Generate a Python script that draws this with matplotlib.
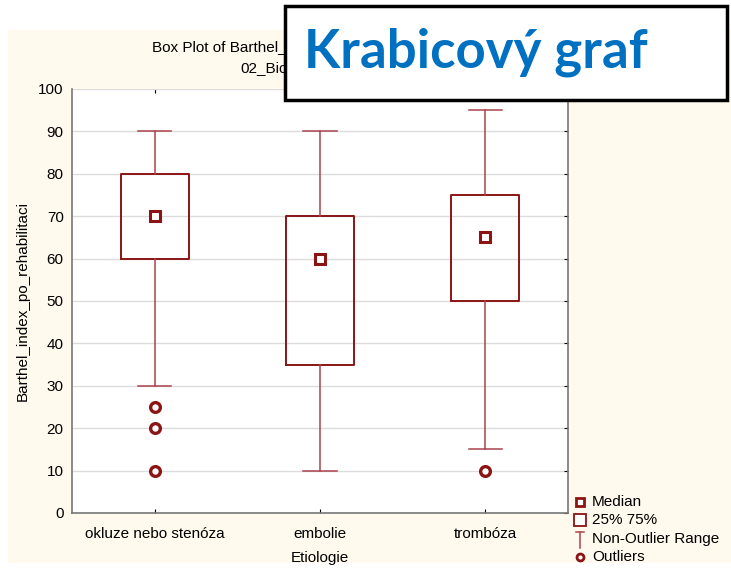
import matplotlib.pyplot as plt
from matplotlib.patches import Rectangle
from matplotlib.lines import Line2D

# -----------------------------------------------------------------------------
# data
categories = ["okluze nebo stenóza", "embolie", "trombóza"]
medians = [70, 60, 65]
q1 = [60, 35, 50]
q3 = [80, 70, 75]
whis_lo = [30, 10, 15]
whis_hi = [90, 90, 95]
outliers = [[25, 20, 10], [], [10]]
y_ticks = [0, 10, 20, 30, 40, 50, 60, 70, 80, 90, 100]

RED = '#8b1414'
CREAM = '#fff9ee'
W, H = 731, 572

plt.rcParams['font.family'] = ['Liberation Sans', 'DejaVu Sans']

fig = plt.figure(figsize=(W / 100, H / 100), dpi=100)
fig.patch.set_facecolor('white')

def px(x, y):
    return x / W, 1 - y / H

# cream slide background
bx, by = px(8, 563)
fig.patches.append(Rectangle((bx, by), (731 - 8) / W, (563 - 30) / H,
                             transform=fig.transFigure, facecolor=CREAM,
                             edgecolor='none', zorder=-5))

l, b = px(72, 513)
ax = fig.add_axes([l, b, (568 - 72) / W, (513 - 89) / H])
ax.set_zorder(2)
ax.set_facecolor('white')

positions = [1, 2, 3]
stats = []
for i in range(3):
    stats.append(dict(med=medians[i], q1=q1[i], q3=q3[i],
                      whislo=whis_lo[i], whishi=whis_hi[i],
                      fliers=outliers[i]))

ax.bxp(stats, positions=positions, widths=0.41, capwidths=0.2,
       showfliers=True,
       boxprops=dict(color=RED, linewidth=1.4),
       whiskerprops=dict(color='#a8444c', linewidth=1.1),
       capprops=dict(color='#a8444c', linewidth=1.1),
       medianprops=dict(linestyle='none'),
       flierprops=dict(marker='o', markersize=7, markerfacecolor='white',
                       markeredgecolor=RED, markeredgewidth=2.4))

ax.plot(positions, medians, linestyle='none', marker='s', markersize=7.5,
        markerfacecolor='white', markeredgecolor=RED, markeredgewidth=2.2,
        zorder=5)

ax.set_xlim(0.5, 3.5)
ax.set_ylim(0, 100)
ax.set_yticks(y_ticks)
ax.set_xticks(positions)
ax.set_xticklabels(categories, fontsize=11)
ax.tick_params(axis='y', labelsize=11, pad=6, right=True, left=False,
               direction='in', length=3)
ax.tick_params(axis='x', direction='in', length=3, top=True, pad=10)
ax.grid(axis='y', color='#dcdcdc', linewidth=1)
ax.set_axisbelow(True)
for s in ax.spines.values():
    s.set_color('#777777')
    s.set_linewidth(1.2)
ax.spines['top'].set_visible(False)

ax.set_xlabel("Etiologie", fontsize=11, labelpad=7)
ax.set_ylabel("Barthel_index_po_rehabilitaci", fontsize=11, labelpad=6)

# title, cut off by the overlay box
clip = Rectangle((0, 0), 285 / W, 1, transform=fig.transFigure)
t1 = fig.text(152 / W, 1 - 47 / H, "Box Plot of Barthel_i",
              fontsize=11, ha='left', va='center')
t2 = fig.text(240 / W, 1 - 68 / H, "02_Bios",
              fontsize=11, ha='left', va='center')
for t in (t1, t2):
    t.set_clip_path(clip)
    t.set_clip_on(True)

# legend
leg_x, txt_x = 580 / W, 592 / W
rows = [502, 520, 539, 557]
fig.add_artist(Line2D([leg_x], [1 - rows[0] / H], marker='s', markersize=5.5,
                      markerfacecolor='white', markeredgecolor=RED,
                      markeredgewidth=2, linestyle='none'))
fig.add_artist(Line2D([leg_x], [1 - rows[1] / H], marker='s', markersize=9,
                      markerfacecolor='white', markeredgecolor=RED,
                      markeredgewidth=1.3, linestyle='none'))
fig.add_artist(Line2D([leg_x, leg_x], [1 - 532 / H, 1 - 548 / H],
                      color='#a8444c', linewidth=1.1))
fig.add_artist(Line2D([leg_x - 4 / W, leg_x + 4 / W], [1 - 532 / H, 1 - 532 / H],
                      color='#a8444c', linewidth=1.1))
fig.add_artist(Line2D([leg_x], [1 - rows[3] / H], marker='o', markersize=5,
                      markerfacecolor='white', markeredgecolor=RED,
                      markeredgewidth=2, linestyle='none'))
for r, t in zip(rows, ["Median", "25% 75%", "Non-Outlier Range", "Outliers"]):
    fig.text(txt_x, 1 - r / H, t, fontsize=11, ha='left', va='center')

# overlay heading box
ox, oy = px(285, 100)
fig.patches.append(Rectangle((ox, oy), (727 - 285) / W, (100 - 6) / H,
                             transform=fig.transFigure, facecolor='white',
                             edgecolor='black', linewidth=2.5, zorder=10))
fig.text(304 / W, 1 - 52 / H, "Krabicový graf", fontsize=38, fontweight='bold',
         family=['Lato', 'DejaVu Sans'], color='#0070c0', ha='left', va='center',
         zorder=11)

fig.savefig('out.png', dpi=100)
